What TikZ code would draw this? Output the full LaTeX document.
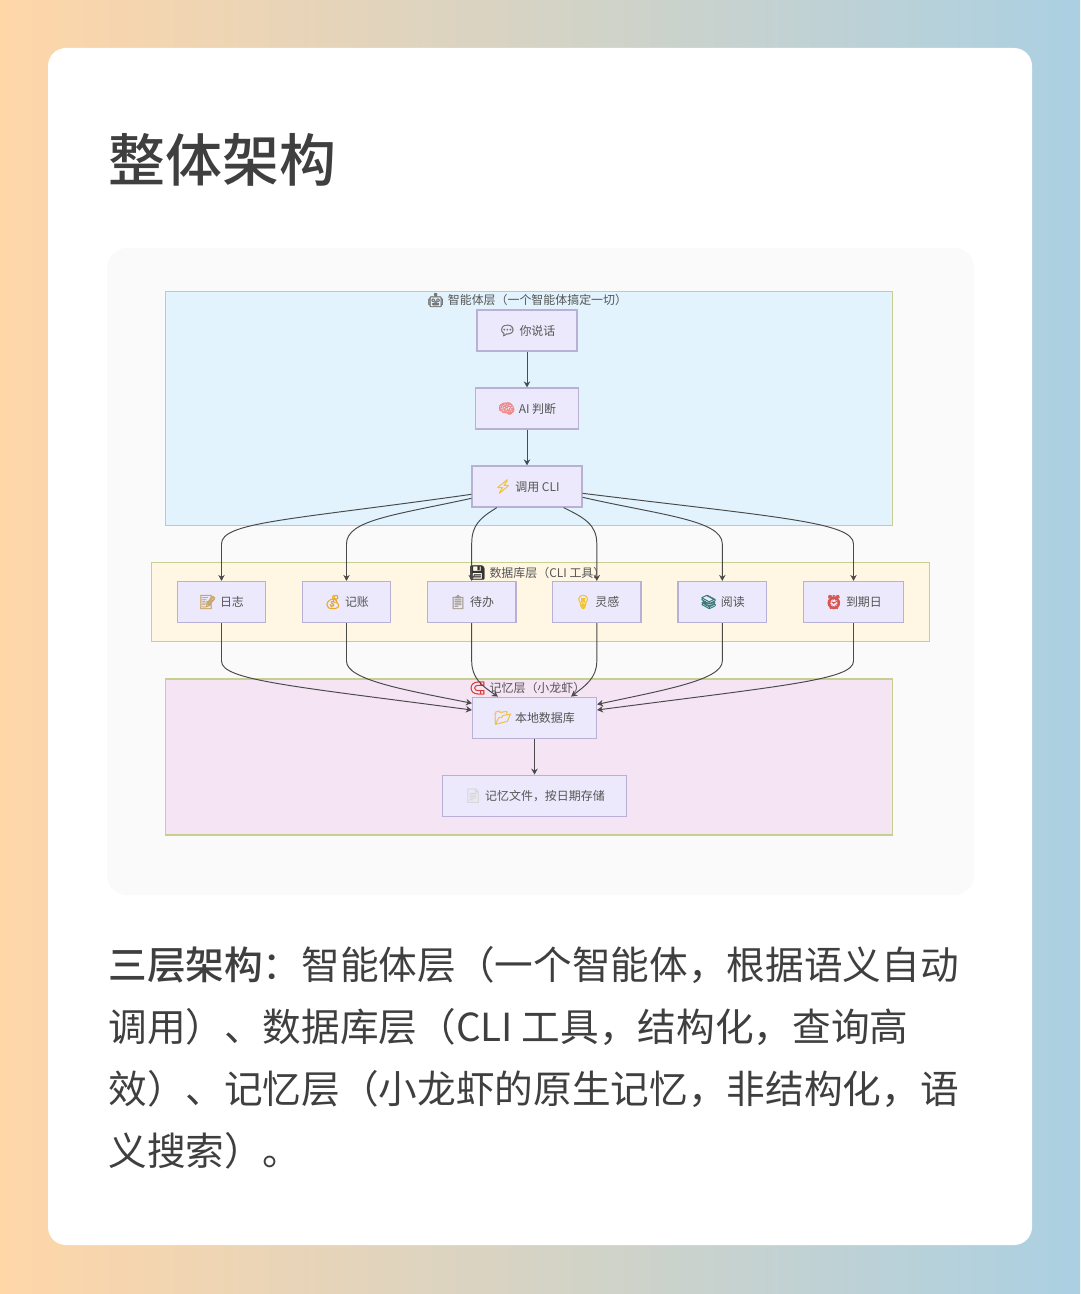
\documentclass[tikz,border=0pt]{standalone}
\usepackage{fontspec}
\setmainfont{Noto Sans CJK SC}
\newfontfamily\heavyfont{Noto Sans CJK SC}[UprightFont={* Medium}]
\newfontfamily\emojifont{Noto Emoji}[FakeBold=2.5]
\usetikzlibrary{positioning,calc,arrows.meta}

\definecolor{bgleft}{HTML}{FFD6A8}
\definecolor{bgright}{HTML}{ABD0E2}
\definecolor{panelgray}{HTML}{FAFAFA}
\definecolor{agentfill}{HTML}{E2F3FD}
\definecolor{dbfill}{HTML}{FFF6E3}
\definecolor{memfill}{HTML}{F4E4F4}
\definecolor{layerline}{HTML}{C6CE90}
\definecolor{boxfill}{HTML}{EBE9FB}
\definecolor{boxline}{HTML}{B9B0D6}
\definecolor{edgegray}{HTML}{4A4A4A}
\definecolor{labelgray}{HTML}{555555}
\definecolor{inkgray}{HTML}{3F3F3F}

\newcommand{\emo}[2]{{\emojifont\fontsize{7.8}{8}\selectfont\textcolor[HTML]{#1}{#2}}\hspace{2pt}}

\begin{document}
\begin{tikzpicture}[
		x=0.02cm, y=-0.02cm,
		layer/.style={rectangle, draw=layerline, line width=0.6pt, inner sep=0pt, minimum height=#1},
		layerlabel/.style={inner sep=0pt, font=\fontsize{6.8}{8}\selectfont, text=labelgray},
		flowbox/.style={rectangle, draw=boxline, line width=0.7pt, fill=boxfill, minimum height=0.82cm, inner sep=0pt, align=center, font=\fontsize{6.8}{8}\selectfont, text=labelgray},
		arr/.style={-{Stealth[length=0.12cm,width=0.13cm]}, draw=edgegray, line width=0.55pt},
		bodyline/.style={anchor=base west, inner sep=0pt, font=\fontsize{22}{26}\selectfont, text=inkgray},
	]

	\useasboundingbox (0,0) rectangle (1080,1294);
	\shade[left color=bgleft, right color=bgright] (0,0) rectangle (1080,1294);
	\fill[white, rounded corners=0.36cm] (48,48) rectangle (1032,1245);
	\fill[panelgray, rounded corners=0.4cm] (107,248) rectangle (974,895);

	\node[anchor=base west, inner sep=0pt, font=\fontsize{32.4}{38}\selectfont\heavyfont, text=inkgray] (title) at (108,182) {整体架构};

	% the three layers
	\node[layer=4.68cm, fill=agentfill, minimum width=14.54cm] (agentlayer) at (529,408.5) {};
	\node[layer=1.57cm, fill=dbfill, minimum width=15.57cm] (dblayer) at (540.2,601.8) {};
	\node[layer=3.12cm, fill=memfill, minimum width=14.54cm] (memlayer) at (529,757) {};

	\node[layerlabel] (agentlabel) at (527,300) {\emo{777777}{🤖}智能体层（一个智能体搞定一切）};
	\node[layerlabel] (dblabel) at (537,572.5) {\emo{333333}{💾}数据库层（CLI 工具）};
	\node[layerlabel] (memlabel) at (527,688) {\emo{D93A2B}{🧲}记忆层（小龙虾）};

	% agent layer boxes
	\node[flowbox, minimum width=2cm] (talk) at (527,330.5) {\emo{777777}{💬}你说话};
	\node[flowbox, minimum width=2.06cm] (judge) at (527,408.5) {\emo{F08A8A}{🧠}AI 判断};
	\node[flowbox, minimum width=2.2cm] (cli) at (527,486.5) {\emo{F5C33B}{⚡}调用 CLI};

	% database layer boxes
	\node[flowbox, minimum width=1.77cm] (diary) at (221.5,602) {\emo{C9A66B}{📝}日志};
	\node[flowbox, minimum width=1.77cm] (ledger) at (346.5,602) {\emo{E8A820}{💰}记账};
	\node[flowbox, minimum width=1.77cm] (todo) at (471.7,602) {\emo{A8A090}{📋}待办};
	\node[flowbox, minimum width=1.77cm] (idea) at (596.8,602) {\emo{F2C230}{💡}灵感};
	\node[flowbox, minimum width=1.77cm] (reading) at (722.3,602) {\emo{3A7A78}{📚}阅读};
	\node[flowbox, minimum width=2cm] (due) at (853.5,602) {\emo{D9534F}{⏰}到期日};

	% memory layer boxes
	\node[flowbox, minimum width=2.48cm] (store) at (534.5,717.7) {\emo{F2C14E}{📂}本地数据库};
	\node[flowbox, minimum width=3.68cm] (files) at (534.5,795.7) {\emo{D8D8D8}{📄}记忆文件，按日期存储};

	\draw[arr] (talk) -- (judge);
	\draw[arr] (judge) -- (cli);
	\draw[arr] (store) -- (files);

	% fan out from the CLI box
	\draw[arr] (cli.188) .. controls (290,520) and (221.5,522) .. ($(diary.north)+(0,-37)$) -- (diary.north);
	\draw[arr] (cli.192) .. controls (395,515) and (346.5,520) .. ($(ledger.north)+(0,-37)$) -- (ledger.north);
	\draw[arr] (cli.215) .. controls (480,518) and (471.7,525) .. ($(todo.north)+(0,-37)$) -- (todo.north);
	\draw[arr] (cli.330) .. controls (585,518) and (596.8,525) .. ($(idea.north)+(0,-37)$) -- (idea.north);
	\draw[arr] (cli.349) .. controls (660,515) and (722.3,520) .. ($(reading.north)+(0,-37)$) -- (reading.north);
	\draw[arr] (cli.353) .. controls (775,517) and (853.5,522) .. ($(due.north)+(0,-37)$) -- (due.north);

	% fan in to the local store
	\draw[arr] (diary.south) -- ($(diary.south)+(0,38)$) .. controls (221.5,680) and (290,686) .. (store.173);
	\draw[arr] (ledger.south) -- ($(ledger.south)+(0,38)$) .. controls (346.5,680) and (405,690) .. (store.167.5);
	\draw[arr] (todo.south) -- ($(todo.south)+(0,38)$) .. controls (471.7,678) and (482,686) .. (store.150.7);
	\draw[arr] (idea.south) -- ($(idea.south)+(0,38)$) .. controls (596.8,678) and (585,686) .. (store.30);
	\draw[arr] (reading.south) -- ($(reading.south)+(0,38)$) .. controls (722.3,680) and (664,690) .. (store.12.5);
	\draw[arr] (due.south) -- ($(due.south)+(0,38)$) .. controls (853.5,680) and (780,686) .. (store.7);

	% text under the panel
	\node[bodyline] (line1) at (108,979) {{\heavyfont 三层架构}：智能体层（一个智能体，根据语义自动};
	\node[bodyline] (line2) at (108,1041) {调用）、数据库层（CLI 工具，结构化，查询高};
	\node[bodyline] (line3) at (108,1103) {效）、记忆层（小龙虾的原生记忆，非结构化，语};
	\node[bodyline] (line4) at (108,1165) {义搜索）。};

\end{tikzpicture}
\end{document}
